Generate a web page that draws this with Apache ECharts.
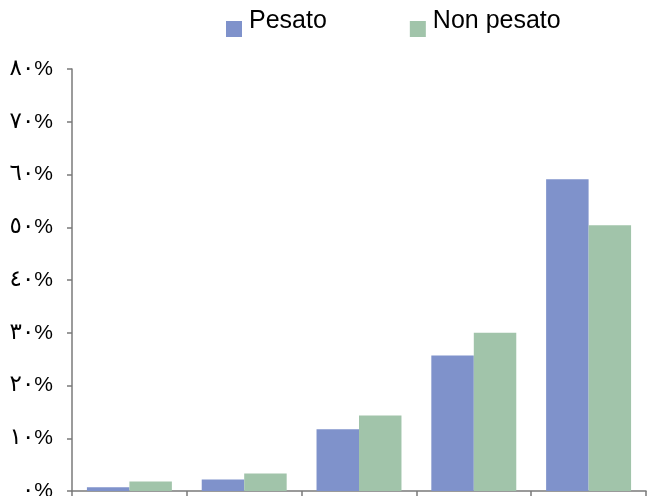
<!DOCTYPE html>
<html>
<head>
<meta charset="utf-8">
<script src="https://cdn.jsdelivr.net/npm/echarts@6/dist/echarts.min.js"></script>
<style>
  html, body { margin: 0; padding: 0; background: #fff; }
  #chart { width: 648px; height: 496px; }
</style>
</head>
<body>
<div id="chart"></div>
<script>
// Five groups, weighted vs unweighted share (%)
const categories = ['1', '2', '3', '4', '5'];
const pesato = [0.7, 2.2, 11.7, 25.7, 59.1];
const nonPesato = [1.8, 3.3, 14.3, 30.0, 50.4];
const seriesNames = ['Pesato', 'Non pesato'];
const yTicks = { min: 0, max: 80, interval: 10 };

// Eastern Arabic digits for the percentage ticks
const arabicDigits = ['٠', '١', '٢', '٣', '٤', '٥', '٦', '٧', '٨', '٩'];
const toArabic = v => String(v).replace(/[0-9]/g, d => arabicDigits[+d]);

const axisColor = '#7a7a7a';
// Legend swatch sits low beside its label: an empty anchor point at the top
// keeps the square in the lower half of the icon box.
const legendSwatch = 'path://M0,0L0,0ZM0,16L16,16L16,32L0,32Z';

const chart = echarts.init(document.getElementById('chart'), null, { renderer: 'canvas' });
chart.setOption({
  animation: false,
  backgroundColor: '#ffffff',
  color: ['#7f92cb', '#a1c4aa'],
  legend: {
    data: seriesNames,
    left: 226,
    top: 5,
    padding: 0,
    itemWidth: 16,
    itemHeight: 32,
    itemGap: 83,
    icon: legendSwatch,
    textStyle: {
      fontFamily: 'Liberation Sans, Arial, sans-serif',
      fontSize: 25,
      color: '#000',
      padding: [0, 0, 0, 2]
    }
  },
  grid: { left: 72, right: 2, top: 69, bottom: 5, containLabel: false, outerBoundsMode: 'none' },
  xAxis: {
    type: 'category',
    data: categories,
    axisLine: { lineStyle: { color: axisColor, width: 1.5 } },
    axisTick: { show: true, length: 6, lineStyle: { color: axisColor, width: 1.5 } },
    axisLabel: { show: false }
  },
  yAxis: {
    type: 'value',
    min: yTicks.min,
    max: yTicks.max,
    interval: yTicks.interval,
    splitLine: { show: false },
    axisLine: { show: true, lineStyle: { color: axisColor, width: 1.5 } },
    axisTick: { show: true, length: 5, lineStyle: { color: axisColor, width: 1.5 } },
    axisLabel: {
      margin: 19,
      color: '#000',
      fontFamily: 'Liberation Sans, DejaVu Sans, sans-serif',
      fontSize: 20,
      formatter: v => '{d|' + toArabic(v) + '}{p|%}',
      rich: {
        d: { fontSize: 23, fontFamily: 'DejaVu Sans, sans-serif', color: '#000', verticalAlign: 'middle' },
        p: { fontSize: 21, fontFamily: 'Liberation Sans, sans-serif', color: '#000', verticalAlign: 'middle' }
      }
    }
  },
  series: [
    { name: seriesNames[0], type: 'bar', data: pesato, barGap: '0%', barCategoryGap: '26%' },
    { name: seriesNames[1], type: 'bar', data: nonPesato, barGap: '0%', barCategoryGap: '26%' }
  ]
});
</script>
</body>
</html>
